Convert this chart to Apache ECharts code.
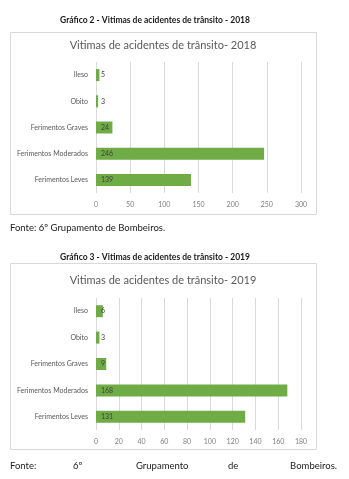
<!DOCTYPE html>
<html><head><meta charset="utf-8">
<script src="https://cdn.jsdelivr.net/npm/echarts@6/dist/echarts.min.js"></script>
<style>html,body{margin:0;padding:0;background:#fff}#c{width:349px;height:479px}</style>
</head><body><div id="c"></div>
<script>
const categories = ['Ileso', 'Obito', 'Ferimentos Graves', 'Ferimentos Moderados', 'Ferimentos Leves'];
const values2018 = [5, 3, 24, 246, 139];
const values2019 = [6, 3, 9, 168, 131];
const ticks2018 = [0, 50, 100, 150, 200, 250, 300];
const ticks2019 = [0, 20, 40, 60, 80, 100, 120, 140, 160, 180];

const FONT = 'Lato, "Open Sans", sans-serif';
const chart = echarts.init(document.getElementById('c'));
const green = '#6fac46';

function yAx(gi) {
  return {
    type: 'category', gridIndex: gi, data: categories, inverse: true,
    axisLine: {show: false}, axisTick: {show: false},
    axisLabel: {color: '#595959', fontSize: 7, fontFamily: FONT, margin: 8}
  };
}
function xAx(gi, ticks) {
  return {
    type: 'value', gridIndex: gi, min: ticks[0], max: ticks[ticks.length - 1],
    interval: ticks[1] - ticks[0],
    axisLine: {show: false}, axisTick: {show: false},
    splitLine: {show: true, lineStyle: {color: '#d9d9d9', width: 1}},
    axisLabel: {color: '#7f7f7f', fontSize: 7, fontFamily: FONT, margin: 8}
  };
}
function ser(gi, vals) {
  return {
    type: 'bar', xAxisIndex: gi, yAxisIndex: gi, data: vals, barWidth: 12,
    itemStyle: {color: green},
    label: {show: true, position: 'insideLeft', distance: 5, color: '#404040', fontSize: 7, fontFamily: FONT},
    silent: true
  };
}
const foot = (x, t, align) => ({type: 'text', x: x, y: 466, style: {text: t, fontSize: 9.5, fontFamily: FONT, fill: '#222', align: align || 'left', verticalAlign: 'middle'}});

chart.setOption({
  animation: false,
  grid: [
    {left: 96, width: 205, top: 62, height: 131},
    {left: 96, width: 205, top: 298, height: 132}
  ],
  xAxis: [xAx(0, ticks2018), xAx(1, ticks2019)],
  yAxis: [yAx(0), yAx(1)],
  series: [ser(0, values2018), ser(1, values2019)],
  graphic: [
    {type: 'rect', shape: {x: 10.5, y: 32.5, width: 306, height: 182}, style: {fill: 'none', stroke: '#d9d9d9', lineWidth: 1}, z: -1},
    {type: 'rect', shape: {x: 10.5, y: 263.5, width: 306, height: 186}, style: {fill: 'none', stroke: '#d9d9d9', lineWidth: 1}, z: -1},
    {type: 'text', x: 155, y: 20, style: {text: 'Gráfico 2 - Vitimas de acidentes de trânsito - 2018', fontSize: 8.5, fontWeight: 'bold', fontFamily: FONT, fill: '#1a1a1a', align: 'center', verticalAlign: 'middle'}},
    {type: 'text', x: 163, y: 45, style: {text: 'Vitimas de acidentes de trânsito- 2018', fontSize: 11, fontFamily: FONT, fill: '#595959', align: 'center', verticalAlign: 'middle'}},
    {type: 'text', x: 10, y: 228, style: {text: 'Fonte: 6º Grupamento de Bombeiros.', fontSize: 9.5, fontFamily: FONT, fill: '#222', align: 'left', verticalAlign: 'middle'}},
    {type: 'text', x: 155, y: 257, style: {text: 'Gráfico 3 - Vitimas de acidentes de trânsito - 2019', fontSize: 8.5, fontWeight: 'bold', fontFamily: FONT, fill: '#1a1a1a', align: 'center', verticalAlign: 'middle'}},
    {type: 'text', x: 163, y: 280, style: {text: 'Vitimas de acidentes de trânsito- 2019', fontSize: 11, fontFamily: FONT, fill: '#595959', align: 'center', verticalAlign: 'middle'}},
    foot(10, 'Fonte:'), foot(73, '6º'), foot(136, 'Grupamento'), foot(228, 'de'), foot(337, 'Bombeiros.', 'right')
  ]
});
</script></body></html>
